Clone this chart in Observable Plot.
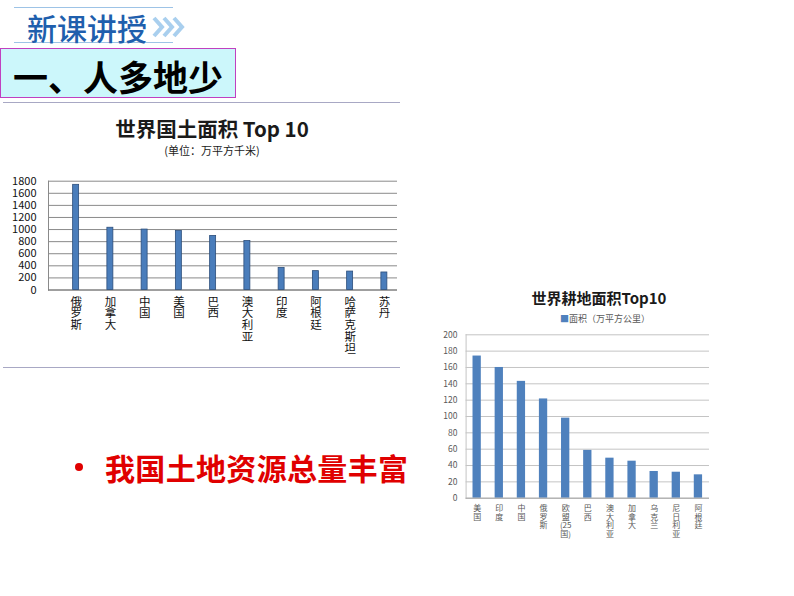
<!DOCTYPE html>
<html><head><meta charset="utf-8">
<script src="https://cdn.jsdelivr.net/npm/d3@7"></script>
<script src="https://cdn.jsdelivr.net/npm/@observablehq/plot@0.6"></script>
<style>
body{margin:0;background:#fff;font-family:"Noto Sans CJK SC",sans-serif}
#slide{position:relative;width:794px;height:596px;overflow:hidden;background:#fff}
.abs{position:absolute;white-space:nowrap;line-height:1}
.hline{position:absolute;height:0}
</style></head><body><div id="slide">
<div class="hline" style="left:14px;top:7px;width:159px;border-top:1.5px solid #9dc3e6"></div>
<div class="hline" style="left:14px;top:42px;width:159px;border-top:1.5px solid #9dc3e6"></div>
<div class="abs" style="left:27px;top:12px;font-size:30px;color:#1f5fad;font-weight:500">新课讲授</div>
<svg class="abs" style="left:152px;top:16px" width="36" height="22" viewBox="0 0 36 22">
<g fill="none" stroke="#a9cfee" stroke-width="4"><polyline points="2,2 10,11 2,20"/><polyline points="12,2 20,11 12,20"/><polyline points="22,2 30,11 22,20"/></g></svg>
<div class="abs" style="left:0;top:48px;width:234px;height:48px;background:#ccf7fb;border:1px solid #c040c0"></div>
<div class="abs" style="left:13px;top:58px;font-size:35px;font-weight:bold;color:#000">一、人多地少</div>
<div class="hline" style="left:3px;top:102px;width:397px;border-top:1px solid #a8a8c4"></div>
<div class="hline" style="left:3px;top:367px;width:397px;border-top:1px solid #a8a8c4"></div>
<div class="abs" style="left:212px;top:118px;transform:translateX(-50%);font-size:20.5px;font-weight:bold;color:#1a1a1a">世界国土面积 Top 10</div>
<div class="abs" style="left:212px;top:145px;transform:translateX(-50%);font-size:11px;color:#1a1a1a">(单位：万平方千米)</div>
<div id="c1" class="abs" style="left:0;top:170px"></div>
<div class="abs" style="left:599px;top:290px;transform:translateX(-50%);font-size:15px;font-weight:bold;color:#1a1a1a">世界耕地面积Top10</div>
<div class="abs" style="left:605px;top:314px;transform:translateX(-50%);font-size:9px;color:#595959"><span style="color:#4f81bd">■</span>面积（万平方公里）</div>
<div id="c2" class="abs" style="left:420px;top:325px"></div>
<div class="abs" style="left:75px;top:463px;width:8px;height:8px;border-radius:50%;background:#e00000"></div>
<div class="abs" style="left:105px;top:452px;width:303px;font-size:30px;font-weight:bold;color:#e00000;white-space:normal;text-align:justify;text-align-last:justify">我国土地资源总量丰富</div>
</div>
<script>
const landCountries = ["俄罗斯","加拿大","中国","美国","巴西","澳大利亚","印度","阿根廷","哈萨克斯坦","苏丹"];
const landArea = [1740, 1030, 1000, 975, 895, 810, 365, 312, 305, 290];
const landTicks = [0,200,400,600,800,1000,1200,1400,1600,1800];

const farmCountries = ["美国","印度","中国","俄罗斯","欧盟(25国)","巴西","澳大利亚","加拿大","乌克兰","尼日利亚","阿根廷"];
const farmArea = [174, 160, 143, 121.5, 98, 58.5, 49, 45.3, 32.7, 31.8, 28.6];
const farmTicks = [0,20,40,60,80,100,120,140,160,180,200];

const land = landCountries.map((c, i) => ({country: c, area: landArea[i]}));
const farm = farmCountries.map((c, i) => ({country: c, area: farmArea[i]}));
const font = '"Noto Sans CJK SC", "Liberation Sans", sans-serif';

// stack CJK characters vertically, keep runs of Latin/digits like "(25" on one line
const stack = d => (d.match(/[(（][0-9]+|[0-9]+|[^\s]/g) || []).reduce((acc, t) => {
  if (t === ")" && acc.length) { acc[acc.length - 1] += t; } else acc.push(t);
  return acc;
}, []).join("\n");

const chart1 = Plot.plot({
  width: 410, height: 200,
  marginTop: 10.7, marginBottom: 80.5, marginLeft: 48, marginRight: 13,
  style: {fontFamily: font, background: "transparent", overflow: "visible"},
  x: {domain: landCountries, paddingInner: 0.825, paddingOuter: 0.4125, insetLeft: 10.5, insetRight: -4, round: false, label: null},
  y: {domain: [0, 1800], label: null},
  marks: [
    Plot.gridY(landTicks, {stroke: "#8a8a8a", strokeOpacity: 1}),
    Plot.frame({anchor: "left", stroke: "#8a8a8a"}),
    Plot.ruleY([0], {stroke: "#7a7a7a"}),
    Plot.barY(land, {x: "country", y: "area", fill: "#4a7dbb", stroke: "#2c4f7c", strokeWidth: 0.8}),
    Plot.axisY(landTicks, {tickSize: 0, tickPadding: 12, fontSize: 11, fill: "#111", tickFormat: d => String(d), label: null}),
    Plot.axisX({tickSize: 0, tickPadding: 7, fontSize: 11.5, fill: "#111", lineHeight: 1.04, tickFormat: d => [...d].join("\n"), label: null})
  ]
});
document.getElementById("c1").append(chart1);

const chart2 = Plot.plot({
  width: 300, height: 235,
  marginTop: 9.3, marginBottom: 62.3, marginLeft: 45.6, marginRight: 11,
  style: {fontFamily: font, background: "transparent", overflow: "visible"},
  x: {domain: farmCountries, paddingInner: 0.625, paddingOuter: 0.3125, round: false, label: null},
  y: {domain: [0, 200], label: null},
  marks: [
    Plot.gridY(farmTicks, {stroke: "#c4c4c4", strokeOpacity: 1}),
    Plot.frame({anchor: "left", stroke: "#c4c4c4"}),
    Plot.barY(farm, {x: "country", y: "area", fill: "#4f81bd"}),
    Plot.ruleY([0], {stroke: "#a6a6a6"}),
    Plot.axisY(farmTicks, {tickSize: 0, tickPadding: 8.6, fontSize: 8.5, fill: "#595959", tickFormat: d => String(d), label: null}),
    Plot.axisX({tickSize: 0, tickPadding: 7.3, fontSize: 8, fill: "#595959", lineHeight: 1.05, tickFormat: stack, label: null})
  ]
});
document.getElementById("c2").append(chart2);
</script>
</body></html>
